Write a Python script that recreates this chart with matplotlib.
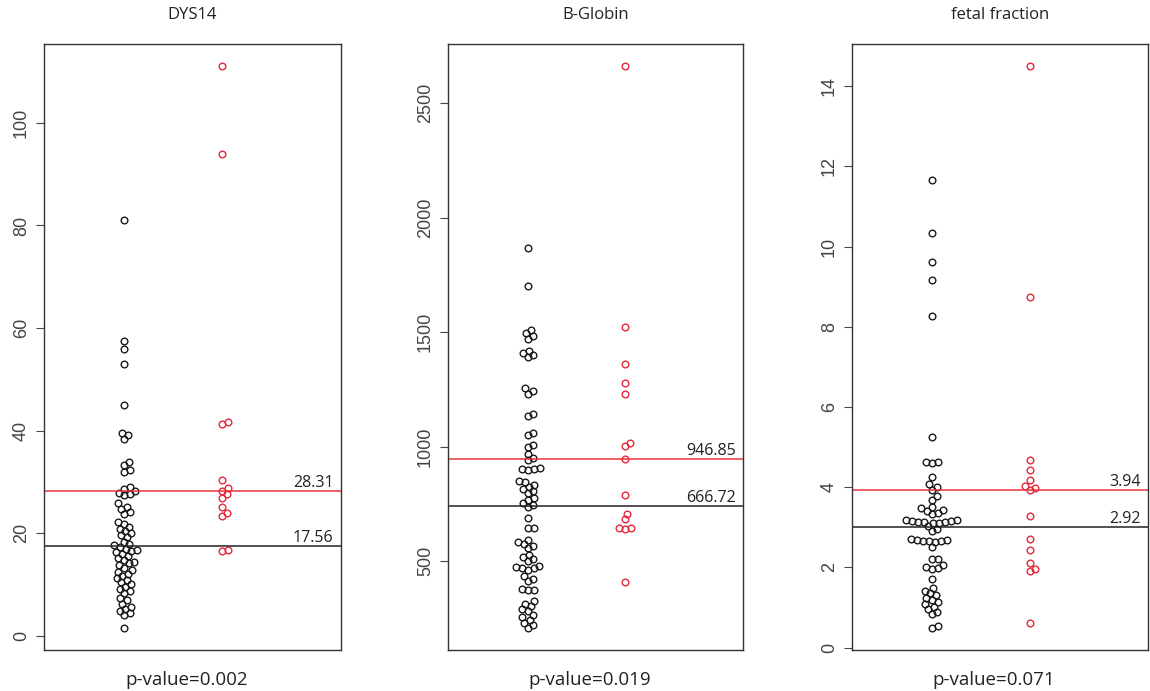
import numpy as np
import matplotlib
matplotlib.use("Agg")
import matplotlib.pyplot as plt

titles = ["DYS14", "B-Globin", "fetal fraction"]
pvalues = ["p-value=0.002", "p-value=0.019", "p-value=0.071"]

dys14_ctrl = [81, 57.5, 56, 53, 45, 39.6, 39.2, 38.3, 33.9, 33.2, 32.4, 32, 29, 28.7,
              28.2, 27.8, 27.6, 27.4, 25.8, 25.2, 24.8, 24.1, 23.8, 22.2, 21.8, 21.3,
              20.9, 20.4, 20.0, 19.6, 19.2, 18.2, 17.9, 17.6, 17.3, 17.0, 16.8, 16.6,
              16.3, 16.0, 15.6, 15.2, 14.8, 14.4, 14.1, 13.7, 13.3, 12.9, 12.5, 12.1,
              11.6, 11.2, 10.8, 10.4, 10.0, 9.6, 9.2, 8.8, 8.4, 7.3, 6.9, 6.2, 5.6,
              5.2, 4.8, 4.4, 4.0, 1.6]
dys14_case = [111.0, 94.0, 41.6, 41.2, 30.3, 28.8, 28.3, 27.6, 26.9, 25.1, 24.0, 23.4,
              16.7, 16.6]

bglob_ctrl = [1870, 1703, 1508, 1495, 1482, 1470, 1420, 1410, 1400, 1392, 1255, 1244,
              1232, 1143, 1133, 1060, 1052, 1009, 1000, 970, 951, 941, 905, 903, 902,
              900, 850, 845, 832, 825, 815, 806, 798, 776, 765, 752, 745, 735, 689,
              647, 645, 594, 585, 576, 566, 556, 528, 518, 508, 500, 480, 476, 472,
              468, 463, 434, 423, 412, 378, 376, 374, 325, 314, 303, 292, 281, 266,
              255, 244, 232, 220, 210]
bglob_case = [2661, 1521, 1360, 1279, 1231, 1017, 1002, 946, 791, 707, 682, 645, 643,
              641, 411]

ff_ctrl = [11.66, 10.33, 9.61, 9.17, 8.27, 5.25, 4.63, 4.62, 4.60, 4.26, 4.07, 4.0,
           3.94, 3.77, 3.68, 3.51, 3.47, 3.43, 3.40, 3.36, 3.33, 3.18, 3.17, 3.16,
           3.15, 3.14, 3.13, 3.12, 3.11, 3.10, 3.02, 2.96, 2.90, 2.70, 2.69, 2.68,
           2.67, 2.66, 2.65, 2.64, 2.52, 2.22, 2.21, 2.06, 2.02, 1.99, 1.96, 1.70,
           1.49, 1.42, 1.36, 1.30, 1.24, 1.19, 1.13, 1.08, 1.02, 0.96, 0.90, 0.84,
           0.55, 0.50]
ff_case = [14.49, 8.73, 4.67, 4.42, 4.18, 4.02, 3.97, 3.93, 3.27, 2.72, 2.43, 2.10,
           1.97, 1.91, 0.61]

red_line = [28.31, 946.85, 3.94]
black_line = [17.56, 740, 3.0]
red_label = ["28.31", "946.85", "3.94"]
black_label = ["17.56", "666.72", "2.92"]
yticks = [[0, 20, 40, 60, 80, 100],
          [500, 1000, 1500, 2000, 2500],
          [0, 2, 4, 6, 8, 10, 12, 14]]

groups = [(dys14_ctrl, dys14_case), (bglob_ctrl, bglob_case), (ff_ctrl, ff_case)]


def swarm(vals, xscale, yscale, d):
    # beeswarm: ascending order, nearest free x offset (pixel space)
    vals = np.asarray(vals, float)
    offs = np.zeros(len(vals))
    placed = []
    for i in np.argsort(vals):
        y = vals[i] * yscale
        cands = [0.0]
        for px, py in placed:
            dy = y - py
            if abs(dy) < d:
                dx = np.sqrt(d * d - dy * dy)
                cands += [px + dx, px - dx]
        cands.sort(key=abs)
        for c in cands:
            if all((c - px) ** 2 + (y - py) ** 2 >= d * d - 1e-6 for px, py in placed):
                break
        placed.append((c, y))
        offs[i] = c / xscale
    return offs


W, H = 1150, 691
fig = plt.figure(figsize=(W / 100, H / 100), dpi=100)
boxes = [(44, 341), (448, 743), (852, 1148)]
top, bot = 44, 650
xlim = (0.182, 3.212)
lab_font = "Open Sans"

for k, (ctrl, case) in enumerate(groups):
    x0, x1 = boxes[k]
    ax = fig.add_axes([x0 / W, 1 - bot / H, (x1 - x0) / W, (bot - top) / H])
    allv = np.array(ctrl + case)
    rng = allv.max() - allv.min()
    ylim = (allv.min() - 0.04 * rng, allv.max() + 0.04 * rng)
    ax.set_xlim(*xlim)
    ax.set_ylim(*ylim)
    xs = (x1 - x0) / (xlim[1] - xlim[0])
    ys = (bot - top) / (ylim[1] - ylim[0])
    for pos, vals, col in [(1, ctrl, "#1a1a1a"), (2, case, "#e4283a")]:
        off = swarm(vals, xs, ys, 6.0)
        ax.plot(pos + off, vals, "o", ms=4.8, mfc="none", mec=col, mew=1.0)
    ax.axhline(red_line[k], color="#e8343c", lw=1.1)
    ax.axhline(black_line[k], color="#222222", lw=1.1)
    ax.text(0.975, red_line[k], red_label[k], transform=ax.get_yaxis_transform(),
            ha="right", va="bottom", fontsize=11.5, family=lab_font, color="#222222")
    ax.text(0.975, black_line[k], black_label[k], transform=ax.get_yaxis_transform(),
            ha="right", va="bottom", fontsize=11.5, family=lab_font, color="#222222")
    ax.set_xticks([])
    ax.set_yticks(yticks[k])
    ax.tick_params(axis="y", direction="out", length=6, width=0.8, color="#444444",
                   labelsize=13, labelcolor="#444444", pad=4)
    for lab in ax.get_yticklabels():
        lab.set_rotation(90)
        lab.set_va("center")
        lab.set_family("Liberation Sans")
    for sp in ax.spines.values():
        sp.set_color("#333333")
        sp.set_linewidth(1.0)
    xc = (x0 + x1) / 2 / W
    fig.text(xc, 1 - 15 / H, titles[k], ha="center", va="center", fontsize=12,
             family=lab_font, color="#222222")
    fig.text(xc - 6 / W, 1 - 680 / H, pvalues[k], ha="center", va="center",
             fontsize=13.5, family=lab_font, color="#222222")

fig.savefig("out.png", dpi=100)
